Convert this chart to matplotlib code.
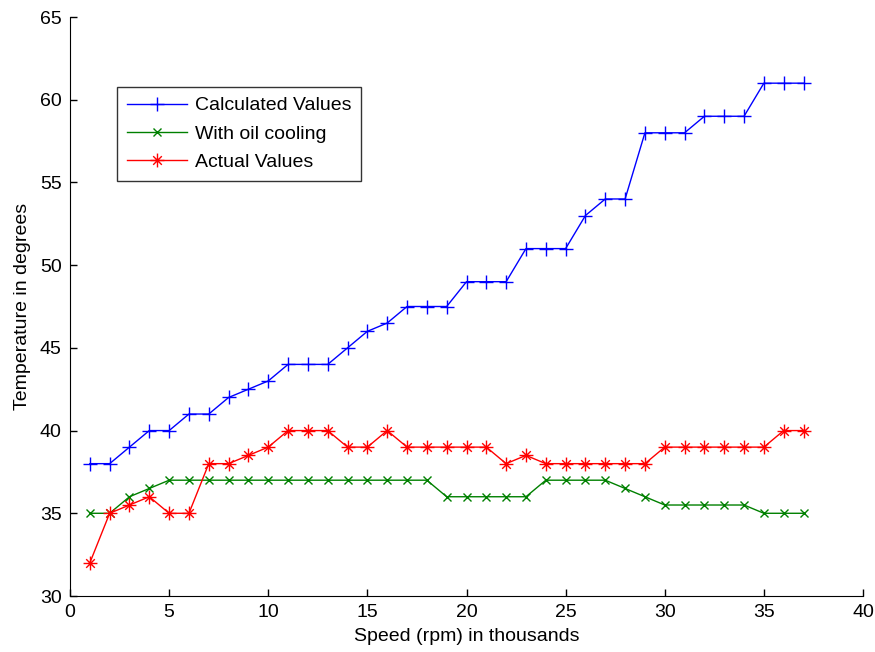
import matplotlib
matplotlib.use("Agg")
import matplotlib.pyplot as plt
from matplotlib.path import Path

speed = list(range(1, 38))
calculated = [38, 38, 39, 40, 40, 41, 41, 42, 42.5, 43, 44, 44, 44, 45, 46, 46.5,
              47.5, 47.5, 47.5, 49, 49, 49, 51, 51, 51, 53, 54, 54, 58, 58, 58,
              59, 59, 59, 61, 61, 61]
oil_cooling = [35, 35, 36, 36.5, 37, 37, 37, 37, 37, 37, 37, 37, 37, 37, 37, 37,
               37, 37, 36, 36, 36, 36, 36, 37, 37, 37, 37, 36.5, 36, 35.5, 35.5,
               35.5, 35.5, 35.5, 35, 35, 35]
actual = [32, 35, 35.5, 36, 35, 35, 38, 38, 38.5, 39, 40, 40, 40, 39, 39, 40,
          39, 39, 39, 39, 39, 38, 38.5, 38, 38, 38, 38, 38, 38, 39, 39, 39, 39,
          39, 39, 40, 40]

labels = ["Calculated Values", "With oil cooling", "Actual Values"]
x_ticks = [0, 5, 10, 15, 20, 25, 30, 35, 40]
y_ticks = [30, 35, 40, 45, 50, 55, 60, 65]

plt.rcParams['font.family'] = ['Liberation Sans', 'DejaVu Sans']

# MATLAB-style asterisk: plus combined with a cross
d = 0.62
asterisk = Path(
    [(0, -1), (0, 1), (-1, 0), (1, 0), (-d, -d), (d, d), (-d, d), (d, -d)],
    [Path.MOVETO, Path.LINETO] * 4,
)

fig = plt.figure(figsize=(8.75, 6.52), dpi=100)
ax = fig.add_axes([70/875, 1-596/652, (863-70)/875, (596-17)/652])

ax.plot(speed, calculated, color='#0000ff', marker='+', markersize=10,
        markeredgewidth=1.0, linewidth=1.0, label=labels[0])
ax.plot(speed, oil_cooling, color='#008000', marker='x', markersize=5.5,
        markeredgewidth=1.0, linewidth=1.0, label=labels[1])
ax.plot(speed, actual, color='#ff0000', marker=asterisk, markersize=10,
        markeredgewidth=1.0, linewidth=1.0, label=labels[2])

ax.set_xlim(0, 40)
ax.set_ylim(30, 65)
ax.set_xticks(x_ticks)
ax.set_yticks(y_ticks)
ax.tick_params(direction='in', length=5, labelsize=14, width=1, pad=6)
ax.spines['top'].set_visible(False)
ax.spines['right'].set_visible(False)
ax.set_xlabel("Speed (rpm) in thousands", fontsize=14, labelpad=5)
ax.set_ylabel("Temperature in degrees", fontsize=14, labelpad=6)

leg = ax.legend(loc='upper left', bbox_to_anchor=((117-70)/793, (596-87)/579),
                fontsize=14, frameon=True, fancybox=False, edgecolor='black',
                borderpad=0.5, handlelength=3.1, labelspacing=0.55,
                handletextpad=0.4, borderaxespad=0)
leg.get_frame().set_linewidth(1.0)

fig.savefig("out.png", dpi=100)
